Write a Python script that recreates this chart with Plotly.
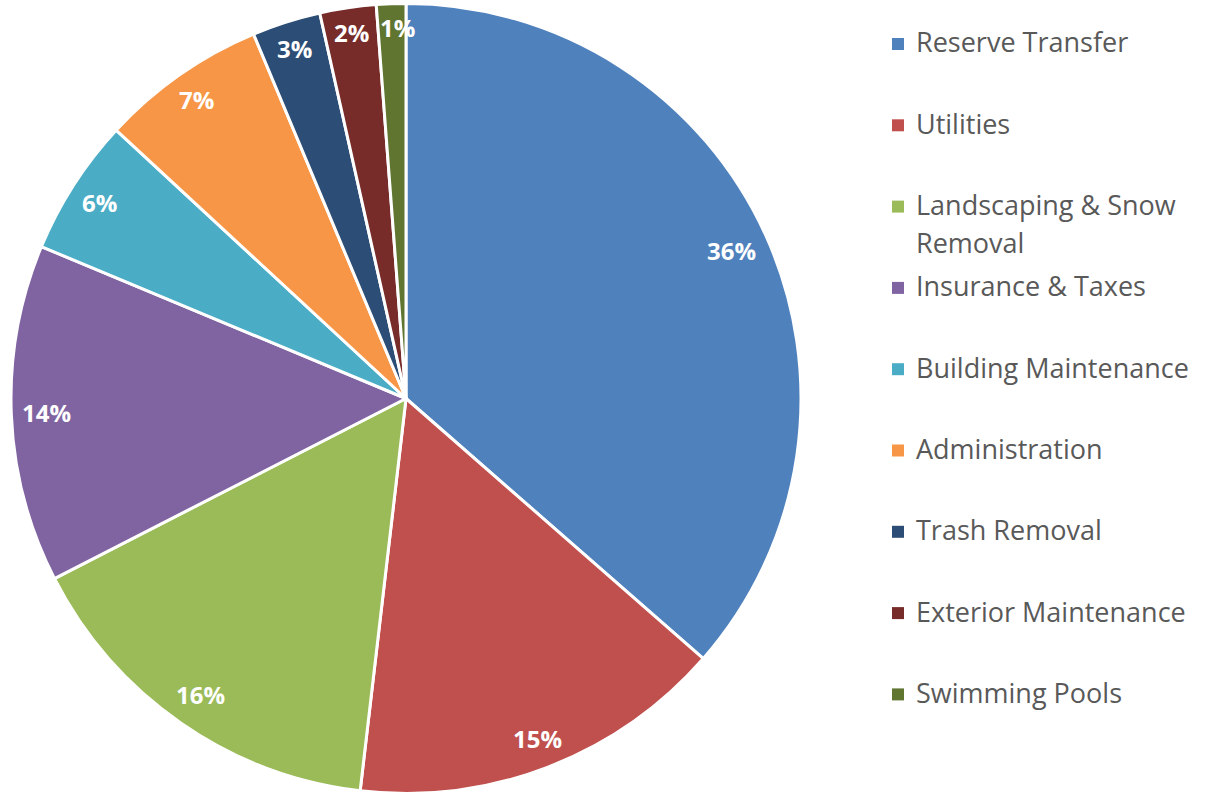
import math
import plotly.graph_objects as go

labels = ["Reserve Transfer", "Utilities", "Landscaping & Snow Removal",
          "Insurance & Taxes", "Building Maintenance", "Administration",
          "Trash Removal", "Exterior Maintenance", "Swimming Pools"]
values = [36.4, 15.4, 15.6, 13.8, 5.6, 6.8, 2.8, 2.3, 1.2]
colors = ["#4F81BD", "#C0504D", "#9BBB59", "#8064A2", "#4BACC6",
          "#F79646", "#2C4D75", "#772C2A", "#5F7530"]

W, H = 1208, 796
CX, CY, R = 406.0, 398.5, 395.0  # pie centre / radius in px

fig = go.Figure()
fig.add_trace(go.Pie(
    labels=labels, values=values, sort=False, direction="clockwise",
    rotation=0, textinfo="none", hoverinfo="label+percent",
    showlegend=False,
    marker=dict(colors=colors, line=dict(color="white", width=3)),
    domain=dict(x=[(CX - R) / W, (CX + R) / W],
                y=[1 - (CY + R) / H, 1 - (CY - R) / H]),
))

annotations = []
shapes = []
total = sum(values)
cum = 0.0
LAB_FS = 24
for v in values:
    txt = f"{round(v / total * 100)}%"
    a = 2 * math.pi * (cum + v / 2) / total
    s, c = math.sin(a), math.cos(a)
    hw = 0.29 * LAB_FS * len(txt) + 2
    hh = 11
    r = R - 12 - (hw * abs(s) + hh * abs(c))
    px, py = CX + r * s, CY - r * c
    if v / total < 0.015:
        px += 6
    annotations.append(dict(
        x=px / W, y=1 - py / H, xref="paper", yref="paper",
        text=f"<b>{txt}</b>", showarrow=False,
        font=dict(family="Open Sans", size=LAB_FS, color="white"),
        xanchor="center", yanchor="middle"))
    cum += v

# Legend (drawn manually to match spacing)
LEG_FS = 27
TX = 914
LINE_GAP = 38
y0, step = 42, 81.3
for i, (lab, col) in enumerate(zip(labels, colors)):
    yc = y0 + step * i
    lines = [lab]
    if len(lab) > 22:
        lines = lab.rsplit(" ", 1)
    for j, ln in enumerate(lines):
        annotations.append(dict(
            x=TX / W, y=1 - (yc + j * LINE_GAP) / H, xref="paper", yref="paper",
            text=ln, showarrow=False, align="left",
            font=dict(family="Open Sans", size=LEG_FS, color="#595959"),
            xanchor="left", yanchor="middle"))
    sq = 12
    shapes.append(dict(
        type="rect", xref="paper", yref="paper",
        x0=892 / W, x1=(892 + sq) / W,
        y0=1 - (yc + 2 + sq / 2) / H, y1=1 - (yc + 2 - sq / 2) / H,
        fillcolor=col, line=dict(width=0)))

fig.update_layout(
    width=W, height=H,
    margin=dict(l=0, r=0, t=0, b=0),
    paper_bgcolor="white", plot_bgcolor="white",
    annotations=annotations, shapes=shapes,
)

fig.write_html("out.html")
